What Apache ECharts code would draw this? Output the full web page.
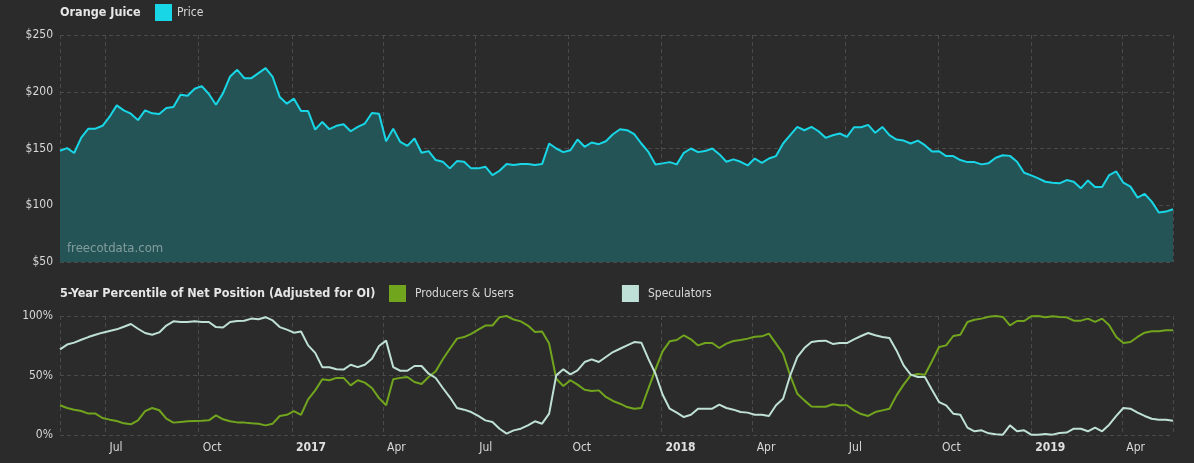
<!DOCTYPE html>
<html>
<head>
    <meta charset="utf-8">
    <title>Orange Juice COT</title>
    <script src="https://cdn.jsdelivr.net/npm/echarts@6/dist/echarts.min.js"></script>
    <style type="text/css">
        html, body {margin:0; padding:0; overflow:hidden; background-color:#2b2b2b;}
    </style>
</head>
<body>
<div id="container" style="width:1194px;height:463px;"></div>

<script type="text/javascript">

    // weekly report dates, first one and count
    var startDay = [2016, 4, 17];
    var weeks = 158;

    // price ($)
    var price = [
        148, 150.3, 146, 159.6, 167.5, 167.5, 170, 178, 188, 183.6, 180.7, 175, 183.6, 181, 180.4, 185.7, 186.5, 197.4, 196.5, 202.6,
        205, 198, 188.6, 198.8, 213.5, 219.3, 212, 212, 216.4, 220.8, 213, 195.3, 189.5, 193.9, 183, 183, 166.7, 173.4, 167, 170,
        171.3, 165.2, 169,
        172, 181.3, 180.7, 156.4, 167.5, 155.8, 152.3, 158.8, 146.2, 147.7, 139.8, 138.3, 132.5, 138.9, 138.3, 132.5, 132.5, 134, 126.6, 130.4,
        136.3, 135.4, 136.3, 136.3, 135.4, 136.3, 154.4, 150, 146.8, 148.5, 157.9, 151.5, 155.3, 153.8, 156.4, 162.6, 167, 166.1, 162.6, 154.4, 147,
        136, 136.9, 138, 136, 146.2, 150, 146.8, 147.7, 150, 145, 138.3, 140.4, 138.3, 135.1, 141.2, 137.4, 141.2, 143.3, 154.4, 161.7,
        169, 166.1, 169, 165.2, 159.4, 161.7, 163.2, 160.2, 168.7, 168.7, 170.8, 163.8, 169, 161.7, 157.9, 157, 154.4, 157, 152.9, 147.3,
        147.6, 143.3, 143.3, 139.8, 138, 138, 136, 137.1, 141.8, 144.1, 143.5, 138.3, 128.6, 126.3, 123.7, 120.7, 119.9, 119.3, 122.2, 120.7,
        114.9, 121.9, 116.1, 116.1, 126.6, 129.8, 119.9, 116.4, 106.7, 110, 103.2, 93.6, 94.4, 96.5
    ];

    // 5-year percentile, producers & users (%)
    var producers = [
        25, 22.7, 21.3, 20.2, 18, 18, 14.3, 12.9, 11.8, 9.8, 9, 12.3, 20, 22.7, 20.8, 13.7, 10.4, 11, 11.5, 11.8,
        12, 12.3, 16.5, 13.2, 11.5, 10.6, 10.4, 9.8, 9.5, 8.1, 9.5, 16, 17, 20, 17, 30, 37.5, 46.8, 46, 48,
        48, 41.7, 46,
        44, 39.5, 31, 25, 46.8, 48, 48.7, 44.5, 42.9, 48.7, 53.5, 63.6, 72.5, 81, 82.3, 85, 88.5, 92, 92, 99,
        100, 97, 95.5, 92, 86.6, 87, 76.8, 47.3, 41.2, 46, 42.3, 38, 37, 37.5, 32, 28.6, 26.3, 23.5, 22, 22.7, 39,
        55.2, 70.3, 78.7, 79.8, 83.8, 80.4, 75.3, 77.3, 77.3, 73.1, 76.8, 79, 79.8, 81, 82.6, 82.9, 85.2, 76.8, 68.3, 50,
        34.7, 29.1, 24, 23.8, 23.8, 25.8, 25, 25, 20.7, 17.6, 16, 19.3, 20.7, 22.1, 33.3, 42.3, 50.1, 51.3, 50.7, 62,
        73.9, 75.3, 83.2, 84.3, 95, 96.9, 97.8, 99.4, 100, 99.2, 92.2, 95.8, 95.8, 99.7, 100, 98.9, 99.7, 99.2, 98.9, 96.1,
        96.1, 97.8, 95, 97.8, 92.2, 82.4, 77.3, 78.1, 82.4, 86, 87.1, 87.1, 88, 88
    ];

    // 5-year percentile, speculators (%)
    var speculators = [
        72, 76, 77.6, 80, 82.3, 84.3, 86, 87.4, 88.8, 91, 93.3, 89.3, 85.7, 84.3, 86.2, 92, 95.5, 95, 95, 95.5,
        95, 95, 90.7, 90.4, 95, 95.8, 96, 97.8, 97.2, 99, 96.3, 90.7, 88.5, 86, 87, 75.3, 69, 57, 56.9, 55.2,
        55, 59, 57,
        59, 64.1, 74.8, 79.3, 57.1, 54, 54, 58, 58, 51.5, 47.9, 39.5, 31.7, 22.7, 21.3, 19.3, 16, 12.3, 11, 5.3,
        1.1, 3.9, 5.3, 8.1, 11.5, 9.5, 18, 50.1, 55.2, 51, 54.3, 61.3, 63.6, 61.3, 65.5, 69.7, 72.5, 75.3, 78.1, 77.6, 64,
        51.5, 34, 22.1, 18.8, 15.1, 17, 22.1, 22.1, 22.1, 25.5, 22.7, 21.3, 19.3, 18.8, 17, 17, 16, 25, 30.5, 50,
        65.5, 73.1, 78.1, 79, 79.3, 76.5, 77.3, 77.3, 80.4, 83.2, 85.7, 83.8, 82.3, 81.5, 71.1, 58.5, 50.7, 48.7, 48.7, 38,
        27.7, 24.9, 17.9, 17, 6.2, 3.1, 3.9, 1.4, 0.6, 0.3, 8.1, 3.1, 3.9, 0.3, 0.3, 0.8, 0.3, 1.7, 2, 5.3,
        5.3, 3.1, 6.2, 3.1, 8.7, 16, 22.7, 22.1, 18.8, 16, 13.7, 12.9, 12.9, 12
    ];

    var monthNames = ['Jan','Feb','Mar','Apr','May','Jun','Jul','Aug','Sep','Oct','Nov','Dec'];

    var dates = [];
    for (var i = 0; i < weeks; i++) {
        dates.push(+new Date(startDay[0], startDay[1], startDay[2] + 7 * i));
    }

    function pairs(values) {
        var out = [];
        for (var i = 0; i < values.length; i++) {
            out.push([dates[i], values[i]]);
        }
        return out;
    }

    var font = "'DejaVu Sans Condensed', 'DejaVu Sans', sans-serif";
    var gridDash = {color: '#4a4a4a', type: [4, 3], width: 1};
    var DAY = 86400000;

    var myChart = echarts.init(document.getElementById('container'));
    var option = {
        backgroundColor: '#2b2b2b',
        animation: false,
        textStyle: {fontFamily: font},
        title: [{
            text: 'Orange Juice',
            left: 60, top: 6,
            padding: 0,
            textStyle: {color: '#e6e6e6', fontSize: 12.5, fontWeight: 'bold', fontFamily: font}
        }, {
            text: '5-Year Percentile of Net Position (Adjusted for OI)',
            left: 60, top: 287,
            padding: 0,
            textStyle: {color: '#e6e6e6', fontSize: 12.5, fontWeight: 'bold', fontFamily: font}
        }],
        legend: [{
            data: ['Price'],
            left: 155, top: 4,
            padding: 0,
            icon: 'rect',
            itemWidth: 17, itemHeight: 17,
            selectedMode: false,
            textStyle: {color: '#d8d8d8', fontSize: 12, fontFamily: font}
        }, {
            data: ['Producers & Users', 'Speculators'],
            left: 389, top: 285,
            padding: 0,
            icon: 'rect',
            itemWidth: 17, itemHeight: 17,
            itemGap: 108,
            selectedMode: false,
            textStyle: {color: '#d8d8d8', fontSize: 12, fontFamily: font, padding: [0, 0, 0, 4]}
        }],
        graphic: [{
            type: 'text',
            left: 67, top: 242,
            z: 10,
            style: {text: 'freecotdata.com', fill: 'rgba(205,215,215,0.55)', font: '13px ' + font}
        }],
        grid: [
            {left: 60, right: 21, top: 35, height: 227},
            {left: 60, right: 21, top: 316, height: 119}
        ],
        xAxis: [{
            type: 'time',
            gridIndex: 0,
            min: dates[0], max: dates[dates.length - 1],
            splitNumber: 8,
            minInterval: DAY * 100,
            maxInterval: DAY * 170,
            axisLine: {show: false},
            axisTick: {show: false},
            axisLabel: {show: false},
            splitLine: {show: true, lineStyle: gridDash}
        }, {
            type: 'time',
            gridIndex: 1,
            min: dates[0], max: dates[dates.length - 1],
            splitNumber: 8,
            minInterval: DAY * 100,
            maxInterval: DAY * 170,
            axisLine: {show: false},
            axisTick: {show: false},
            splitLine: {show: true, lineStyle: gridDash},
            axisLabel: {
                color: '#d8d8d8',
                fontSize: 12,
                fontFamily: font,
                margin: 7,
                align: 'left',
                padding: [0, 0, 0, 4],
                showMinLabel: false,
                showMaxLabel: false,
                formatter: function (value) {
                    var d = new Date(value);
                    if (d.getMonth() === 0) {
                        return '{y|' + d.getFullYear() + '}';
                    }
                    return monthNames[d.getMonth()];
                },
                rich: {
                    y: {fontWeight: 'bold', fontSize: 12, color: '#e0e0e0', fontFamily: font}
                }
            }
        }],
        yAxis: [{
            type: 'value',
            gridIndex: 0,
            min: 50, max: 250, interval: 50,
            axisLine: {show: false},
            axisTick: {show: false},
            splitLine: {lineStyle: gridDash},
            axisLabel: {
                color: '#d8d8d8', fontSize: 12, fontFamily: font, margin: 7,
                formatter: function (v) { return '$' + v; }
            }
        }, {
            type: 'value',
            gridIndex: 1,
            min: 0, max: 100, interval: 50,
            axisLine: {show: false},
            axisTick: {show: false},
            splitLine: {lineStyle: gridDash},
            axisLabel: {
                color: '#d8d8d8', fontSize: 12, fontFamily: font, margin: 7,
                formatter: function (v) { return v + '%'; }
            }
        }],
        series: [{
            name: 'Price',
            type: 'line',
            xAxisIndex: 0, yAxisIndex: 0,
            data: pairs(price),
            showSymbol: false,
            symbol: 'none',
            itemStyle: {color: '#19d6e6'},
            lineStyle: {color: '#19d6e6', width: 2},
            areaStyle: {color: '#255457', opacity: 1, origin: 'start'}
        }, {
            name: 'Producers & Users',
            type: 'line',
            xAxisIndex: 1, yAxisIndex: 1,
            data: pairs(producers),
            showSymbol: false,
            symbol: 'none',
            itemStyle: {color: '#72a51e'},
            lineStyle: {color: '#72a51e', width: 2}
        }, {
            name: 'Speculators',
            type: 'line',
            xAxisIndex: 1, yAxisIndex: 1,
            data: pairs(speculators),
            showSymbol: false,
            symbol: 'none',
            itemStyle: {color: '#bfe0d6'},
            lineStyle: {color: '#bfe0d6', width: 2}
        }]
    };

    myChart.setOption(option, true);

</script>
</body>
</html>
